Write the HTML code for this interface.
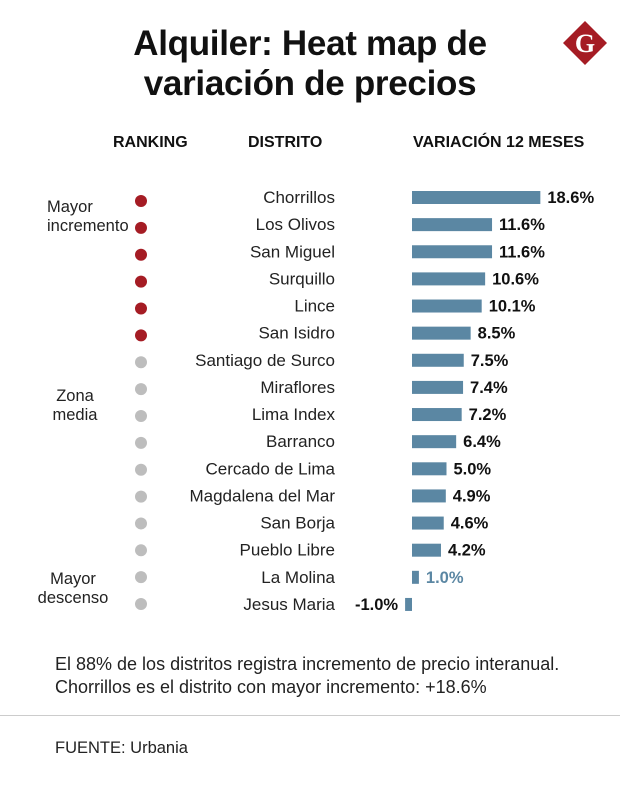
<!DOCTYPE html>
<html><head><meta charset="utf-8"><style>
body{margin:0;width:620px;height:794px;background:#fff;font-family:"Liberation Sans",sans-serif;position:relative;overflow:hidden}
.t{position:absolute;left:0;width:620px;text-align:center;font-weight:bold;font-size:35px;line-height:40px;color:#111;letter-spacing:-0.3px}
.h{position:absolute;top:134px;font-weight:bold;font-size:16px;color:#111}
.g{position:absolute;font-size:16.5px;color:#222;text-align:center;line-height:19px}
.f{position:absolute;left:55px;font-size:18px;color:#222;line-height:23px}
</style></head><body>
<div class="t" style="top:24px">Alquiler: Heat map de<br>variación de precios</div>
<svg style="position:absolute;left:562px;top:20px" width="46" height="46"><polygon points="23,1 45,23 23,45 1,23" fill="#a51c24"/><text x="23" y="32" text-anchor="middle" font-family="Liberation Serif" font-weight="bold" font-size="26" fill="#fff">G</text></svg>
<div class="h" style="left:113px">RANKING</div>
<div class="h" style="left:248px">DISTRITO</div>
<div class="h" style="left:413px">VARIACIÓN 12 MESES</div>
<div class="g" style="left:47px;top:198px;text-align:left">Mayor<br>incremento</div>
<div class="g" style="left:38px;top:387px;width:74px">Zona<br>media</div>
<div class="g" style="left:28px;top:570px;width:90px">Mayor<br>descenso</div>
<svg id="c" style="position:absolute;left:0;top:0" width="620" height="650"></svg>
<div class="f" style="top:653px">El 88% de los distritos registra incremento de precio interanual.<br>Chorrillos es el distrito con mayor incremento: +18.6%</div>
<div style="position:absolute;left:0;top:715px;width:620px;height:1px;background:#ccc"></div>
<div class="f" style="top:737px;font-size:16.5px">FUENTE: Urbania</div>
<script>
const districts=["Chorrillos","Los Olivos","San Miguel","Surquillo","Lince","San Isidro","Santiago de Surco","Miraflores","Lima Index","Barranco","Cercado de Lima","Magdalena del Mar","San Borja","Pueblo Libre","La Molina","Jesus Maria"];
const values=[18.6,11.6,11.6,10.6,10.1,8.5,7.5,7.4,7.2,6.4,5.0,4.9,4.6,4.2,1.0,-1.0];
const labels=["18.6%","11.6%","11.6%","10.6%","10.1%","8.5%","7.5%","7.4%","7.2%","6.4%","5.0%","4.9%","4.6%","4.2%","1.0%","-1.0%"];
const svg=document.getElementById('c'),NS="http://www.w3.org/2000/svg";
const x=v=>412+v*6.9, y=i=>197+i*27.13, yd=i=>201+i*26.87;
function mk(t,a){const e=document.createElementNS(NS,t);for(const k in a)e.setAttribute(k,a[k]);svg.appendChild(e);return e;}
values.forEach((v,i)=>{
 const d=mk('circle',{cx:141,cy:yd(i),r:6,fill:i<6?'#a51c24':'#bdbdbd'});
 
 
 const n=mk('text',{x:335,y:y(i)+6,'text-anchor':'end','font-size':17,fill:'#222','font-family':'Liberation Sans'});n.textContent=districts[i];
 
 
 const x0=Math.min(x(0),x(v)),w=Math.abs(x(v)-x(0));
 const b=mk('rect',{x:x0,y:y(i)-6,width:w,height:13,fill:'#5b87a3'});
 
 
 const neg=v<0;
 const l=mk('text',{x:neg?x0-7:x0+w+7,y:y(i)+6,'text-anchor':neg?'end':'start','font-size':16.5,'font-weight':'bold',fill:(v>0&&v<2)?'#5b87a3':'#111','font-family':'Liberation Sans'});l.textContent=labels[i];
 
 
});
</script>
</body></html>
